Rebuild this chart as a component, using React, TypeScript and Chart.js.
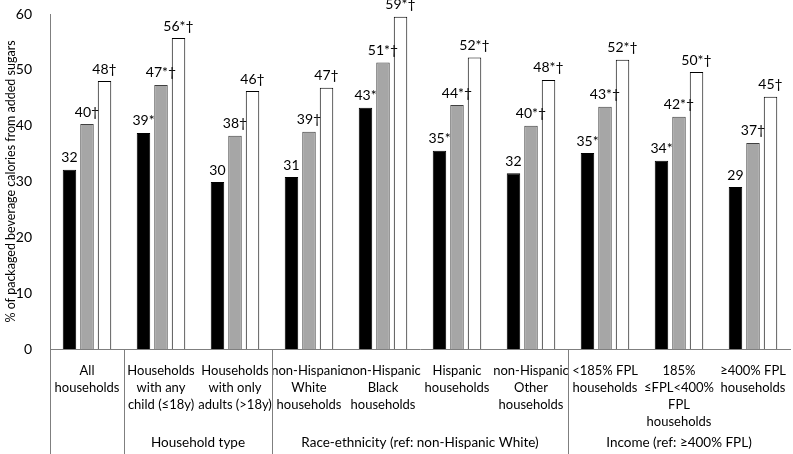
import React, { useEffect, useRef } from 'react';
import { Chart, registerables } from 'chart.js';

Chart.register(...registerables);

const categories: string[][] = [
  ['All', 'households'],
  ['Households', 'with any', 'child (≤18y)'],
  ['Households', 'with only', 'adults (>18y)'],
  ['non-Hispanic', 'White', 'households'],
  ['non-Hispanic', 'Black', 'households'],
  ['Hispanic', 'households'],
  ['non-Hispanic', 'Other', 'households'],
  ['<185% FPL', 'households'],
  ['185%', '≤FPL<400%', 'FPL', 'households'],
  ['≥400% FPL', 'households'],
];

const blackValues = [32.1, 38.7, 29.9, 30.8, 43.2, 35.5, 31.5, 35.1, 33.7, 29.0];
const grayValues = [40.3, 47.3, 38.2, 38.9, 51.3, 43.7, 40.0, 43.4, 41.6, 36.9];
const whiteValues = [48.0, 55.7, 46.2, 46.8, 59.5, 52.2, 48.2, 51.8, 49.6, 45.2];

const blackLabels = ['32', '39*', '30', '31', '43*', '35*', '32', '35*', '34*', '29'];
const grayLabels = ['40†', '47*†', '38†', '39†', '51*†', '44*†', '40*†', '43*†', '42*†', '37†'];
const whiteLabels = ['48†', '56*†', '46†', '47†', '59*†', '52*†', '48*†', '52*†', '50*†', '45†'];

// group spans: [first category index, last category index, label]
const groups: [number, number, string][] = [
  [1, 2, 'Household type'],
  [3, 6, 'Race-ethnicity (ref: non-Hispanic White)'],
  [7, 9, 'Income (ref: ≥400% FPL)'],
];
const separators = [0, 1, 3, 7];

const FONT = 'Lato, "Open Sans", sans-serif';

const App: React.FC = () => {
  const chartRef = useRef<HTMLCanvasElement>(null);
  const chartInstance = useRef<Chart | null>(null);

  useEffect(() => {
    document.body.style.margin = '0';
    if (!chartRef.current) return;
    if (chartInstance.current) chartInstance.current.destroy();

    const allLabels = [blackLabels, grayLabels, whiteLabels];

    const annotate = {
      id: 'annotate',
      afterDatasetsDraw(chart: any) {
        const ctx = chart.ctx;
        ctx.save();
        ctx.font = `14px ${FONT}`;
        ctx.fillStyle = '#000';
        ctx.textAlign = 'center';
        ctx.textBaseline = 'bottom';
        chart.data.datasets.forEach((_: any, di: number) => {
          chart.getDatasetMeta(di).data.forEach((bar: any, i: number) => {
            ctx.fillText(allLabels[di][i], bar.x, bar.y - 5);
          });
        });
        ctx.restore();
      },
      afterDraw(chart: any) {
        const ctx = chart.ctx;
        const area = chart.chartArea;
        const step = (area.right - area.left) / categories.length;
        const h = chart.height;
        ctx.save();
        ctx.strokeStyle = '#7f7f7f';
        ctx.lineWidth = 1;
        separators.forEach((s) => {
          const px = Math.round(area.left + s * step) + 0.5;
          ctx.beginPath();
          ctx.moveTo(px, area.bottom);
          ctx.lineTo(px, h);
          ctx.stroke();
        });
        ctx.font = `13.5px ${FONT}`;
        ctx.fillStyle = '#000';
        ctx.textAlign = 'center';
        ctx.textBaseline = 'middle';
        groups.forEach(([a, b, label]) => {
          const cx = (area.left + a * step + area.left + (b + 1) * step) / 2;
          ctx.fillText(label, cx, 443);
        });
        ctx.restore();
      },
    };

    chartInstance.current = new Chart(chartRef.current, {
      type: 'bar',
      data: {
        labels: categories,
        datasets: [
          {
            label: 'black',
            data: blackValues,
            backgroundColor: '#000000',
            borderColor: '#000000',
            borderWidth: 1,
          },
          {
            label: 'gray',
            data: grayValues,
            backgroundColor: '#a6a6a6',
            borderColor: '#404040',
            borderWidth: 1,
          },
          {
            label: 'white',
            data: whiteValues,
            backgroundColor: '#ffffff',
            borderColor: '#000000',
            borderWidth: 1,
          },
        ],
      },
      options: {
        animation: false,
        responsive: false,
        maintainAspectRatio: false,
        layout: { padding: { top: 14, right: 3, left: 0, bottom: 0 } },
        datasets: {
          bar: { categoryPercentage: 0.71, barPercentage: 0.77 },
        },
        plugins: {
          legend: { display: false },
          tooltip: { enabled: false },
        },
        scales: {
          x: {
            grid: { display: false },
            border: { display: true, color: '#7f7f7f' },
            ticks: {
              autoSkip: false,
              maxRotation: 0,
              minRotation: 0,
              color: '#000',
              padding: 5,
              font: { family: FONT, size: 13, lineHeight: 1.32 },
            },
            afterFit(scale: any) {
              scale.height = 105;
              scale.paddingTop = 0;
            },
          },
          y: {
            min: 0,
            max: 60,
            grid: { display: false },
            border: { display: true, color: '#7f7f7f' },
            ticks: {
              stepSize: 10,
              color: '#000',
              padding: 10,
              font: { family: FONT, size: 14 },
            },
            title: {
              display: true,
              text: '% of packaged beverage calories from added sugars',
              color: '#000',
              font: { family: FONT, size: 12.5 },
              padding: { top: 3, bottom: 2 },
            },
            afterFit(scale: any) {
              scale.width = 50;
              scale.paddingTop = 0;
            },
          },
        },
      },
      plugins: [annotate],
    });

    return () => {
      if (chartInstance.current) {
        chartInstance.current.destroy();
        chartInstance.current = null;
      }
    };
  }, []);

  return (
    <div style={{ width: 793, height: 454, background: '#fff' }}>
      <canvas ref={chartRef} width={793} height={454}></canvas>
    </div>
  );
};

export default App;
